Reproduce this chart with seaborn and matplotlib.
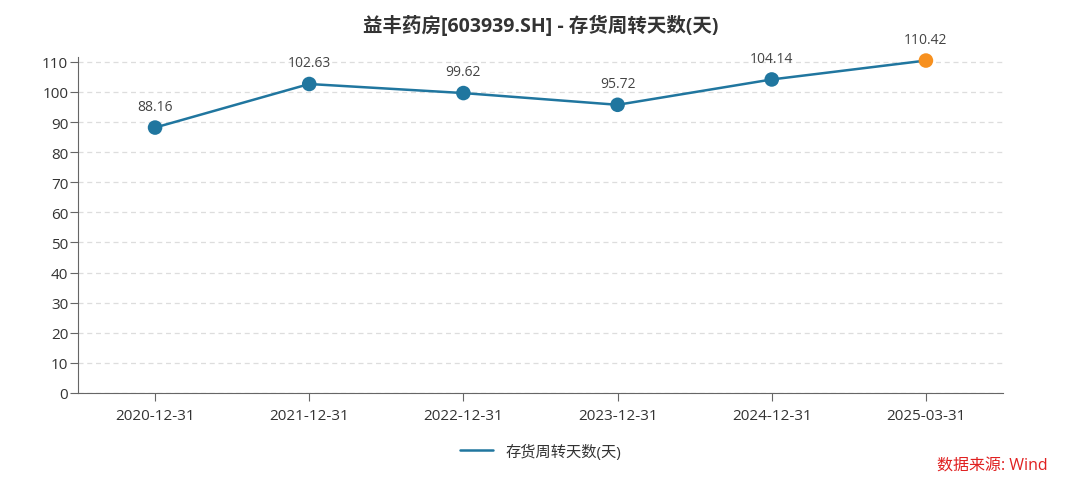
import numpy as np
import pandas as pd
import matplotlib
matplotlib.use("Agg")
import matplotlib.pyplot as plt
import seaborn as sns

# data
dates = ["2020-12-31", "2021-12-31", "2022-12-31", "2023-12-31", "2024-12-31", "2025-03-31"]
days = [88.16, 102.63, 99.62, 95.72, 104.14, 110.42]
point_kind = ["年报", "年报", "年报", "年报", "年报", "季报"]
yticks = [0, 10, 20, 30, 40, 50, 60, 70, 80, 90, 100, 110]

sns.set_style("white")
plt.rcParams['font.family'] = ['Open Sans', 'Noto Sans CJK SC', 'DejaVu Sans']

df = pd.DataFrame({"date": dates, "days": days, "kind": point_kind})
df["pos"] = np.arange(len(df))

fig = plt.figure(figsize=(10.8, 4.89), dpi=100)
ax = fig.add_axes([0.0722, 0.1943, 0.8565, 0.6871])

blue = "#20769f"
orange = "#f7901e"

sns.lineplot(data=df, x="pos", y="days", ax=ax, color=blue, linewidth=1.8,
             label="存货周转天数(天)", zorder=2)
sns.scatterplot(data=df, x="pos", y="days", hue="kind", palette={"年报": blue, "季报": orange},
                s=110, edgecolor="none", ax=ax, legend=False, zorder=3, clip_on=False)

for x, y in zip(df["pos"], df["days"]):
    ax.annotate(f"{y:.2f}", (x, y), xytext=(0, 10), textcoords="offset points",
                ha="center", va="bottom", fontsize=10, color="#444444")

ax.set_xlim(-0.5, len(dates) - 0.5)
ax.set_ylim(0, 111.6)
ax.set_xticks(df["pos"])
ax.set_xticklabels(dates)
ax.set_yticks(yticks)
ax.set_xlabel("")
ax.set_ylabel("")

ax.grid(axis="y", linestyle=(0, (4, 3)), color="#dddddd", linewidth=0.9)
ax.set_axisbelow(True)
for side in ["top", "right"]:
    ax.spines[side].set_visible(False)
ax.spines["left"].set_color("#666666")
ax.spines["bottom"].set_color("#666666")
ax.tick_params(axis="both", length=6, color="#666666", labelsize=11, labelcolor="#333333",
               bottom=True, left=True)
ax.tick_params(axis="y", pad=1)
ax.tick_params(axis="x", pad=5)

ax.set_title("益丰药房[603939.SH] - 存货周转天数(天)", fontsize=14, fontweight="bold",
             color="#333333", pad=19)

leg = ax.legend(loc="upper center", bbox_to_anchor=(0.5, -0.11), frameon=False,
                fontsize=11, handlelength=2.2)
for t in leg.get_texts():
    t.set_color("#333333")

fig.text(0.97, 0.045, "数据来源: Wind", color="#e02020", fontsize=11.5, ha="right", va="center")

fig.savefig("out.png", dpi=100)
